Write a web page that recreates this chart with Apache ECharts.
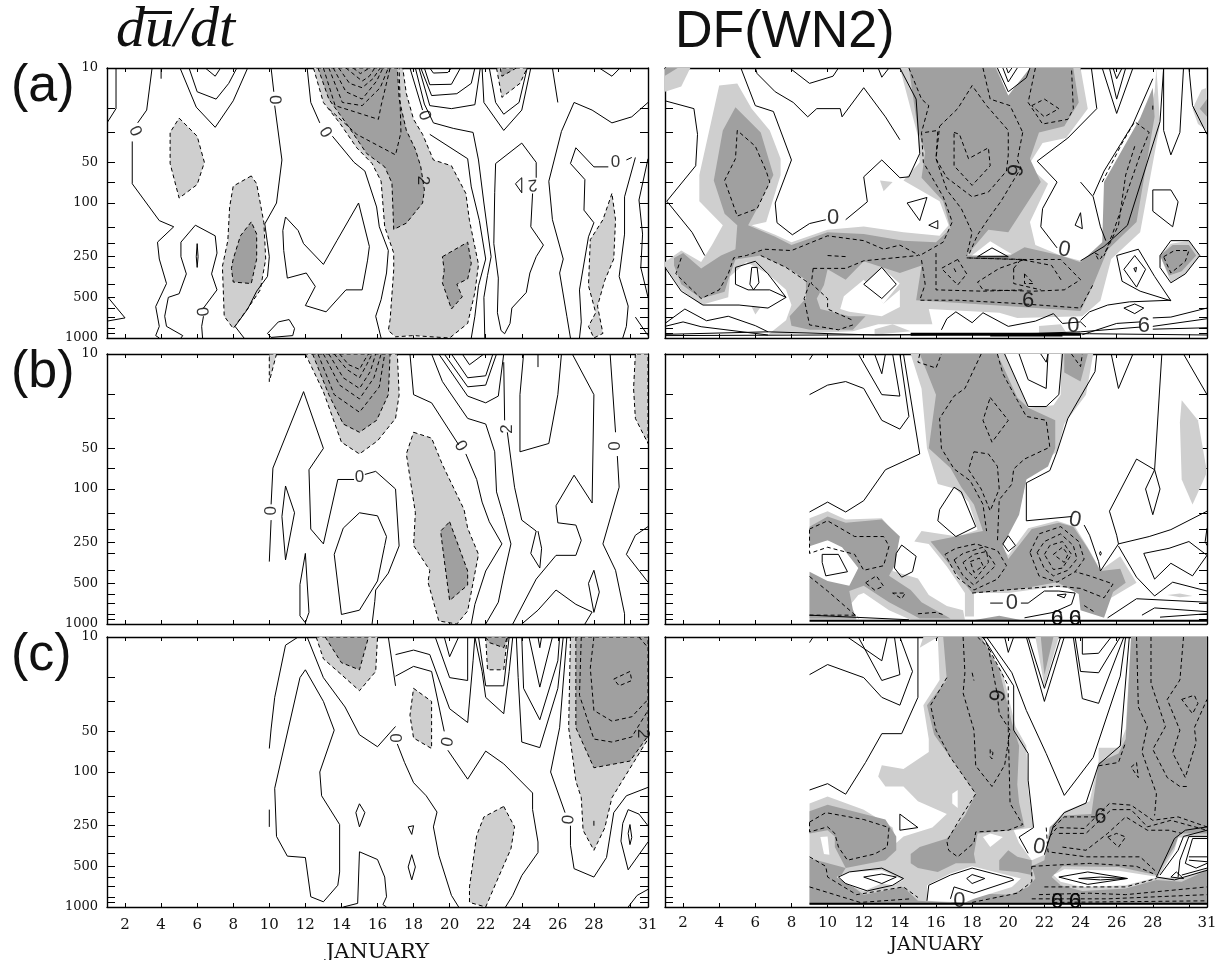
<!DOCTYPE html>
<html><head><meta charset="utf-8">
<script src="https://cdn.jsdelivr.net/npm/echarts@6/dist/echarts.min.js"></script>
<style>html,body{margin:0;padding:0;background:#fff}#c{width:1223px;height:960px}</style></head>
<body><div id="c"></div>
<script>
// Each trace is a flat list: day, pressure (hPa), day, pressure, ...
const dayTicks=[2,4,6,8,10,12,14,16,18,20,22,24,26,28,30,31];
const dayLabels=[2,4,6,8,10,12,14,16,18,20,22,24,26,28,31];
const pressureTicks=[10,20,30,50,70,100,150,200,250,300,400,500,600,700,850,925,1000];
const pressureLabels=[10,50,100,250,500,1000];

// Panel (a) du/dt
const aLLight=[[5,23.5,6,32,6.4,50,6,73,5,92,4.5,51,4.5,30],
[9,63,8,75,7.8,107,7.7,190,7.4,295,7.5,690,8,850,8.9,580,9.5,440,9.8,260,9.7,140,9.3,72],
[12.45,10,13,18,13.9,25.5,14.85,39,15.7,51,16.2,69,16.4,150,16.9,235,16.9,313,16.7,730,16.6,880,17,980,18,960,20,1000,21,780,21.4,460,21.6,285,21.1,135,20.9,85,20.1,53,19.1,48,18.5,31,18,24,17.6,15.5,17.4,10],
[22.6,10,22.9,16.5,23.9,13,24.3,10],
[29,85,28.5,133,27.8,187,27.7,410,28.1,650,27.7,820,28,1000,28.5,925,28.2,580,28.6,375,29.1,260,29.2,133]];
const aLDark=[[9,138,8.4,175,8,260,7.9,305,8,385,9,395,9.3,260,9.3,170],
[12.7,10,13.3,17,14.25,25.5,15.4,43,16.4,54,16.8,71,16.9,157,17.6,141,18.5,100,18.6,80,18.4,54,18.1,40,17.6,29,17.2,17,17.1,10],
[19.6,250,21,195,21.2,280,21,365,20.4,400,20.7,495,20.1,610,19.6,390,19.7,315],
[22.8,10,22.9,11.5,23.7,10]];
const aLSolid=[[1,25.5,1.5,20,1.5,10],[3.5,10,3.2,20.5,2.7,25.5],[2.4,35,2.4,72,3.9,135,4.7,150,3.8,195,3.9,260,4.3,395,3.7,585,3.9,820,3.7,960,3.9,1000],
[5.05,10,5.95,19.5,7,27.5,8,17.5,8.8,10],[5.55,10,6,15,7.05,17,7.75,13,8.2,10],[6.45,10,7,11.5,7.3,10],[4,10,4,12],
[10.1,10,10.25,15],[10.3,19,10.7,48,10.4,100,9.75,143,10,250,9.9,350,9.3,450,8.8,610,8.1,820,8.6,1000],
[6.3,1000,6.25,820,6.35,690],[6.35,600,7.1,440,6.8,335,7.1,235,7,175,5.9,146,5.1,195,5.1,250,5.4,335,5,470,4.4,500,4.2,690,4.3,820,5.2,960,5.1,1000],
[1,490,1.5,590,2,710,1,750],
[12.1,10,12.3,18,12.8,25.5],[13.5,32,14.7,50,15.3,58,15.95,107,16.1,150,16.6,225,16.5,330,16.2,520,15.9,690,16.2,1000],
[17.8,10,18.5,20.5],[18.9,31,21,47,21.2,76,21.65,135,22,260,21.6,410,21.4,690,21.2,1000],
[18.1,10,18.6,18.5,19.1,25.5,20.2,28,21.3,30,21.6,48,21.9,100,22.3,250,22.1,345,21.9,500,21.95,1000],
[18.3,10,18.9,19,20.1,20,21.4,18.7,21.7,10],[18.4,10,19,16,20.4,15.5,21.2,13,21.4,10],[18.6,10,18.9,13.3,20.1,13.2,20.6,10],[18.9,10,19.1,10.9,19.9,10.8,20.1,10],
[21.8,10,21.9,18,23,29,24,20.5,24.5,10],[22.2,10,22.55,18,23,22,23.85,18,24.3,10],
[24.6,85,24.5,150,25.2,205,24.8,250,24.45,330,24.25,460,23.45,600,23.35,780,23.05,930,22.85,880,22.65,650,22.7,360,22.45,200,22.5,84,22.55,51,24,36,24.8,50,24.8,65],
[31,18,30.1,23,29,25.5,27.9,20.5,26.9,18,26.2,29.5,25.5,69,25.7,133,26.3,260,26.1,330,26.5,690,26.7,1000],[25.7,10,26,18],
[28.8,54,28,54,27,39,26.7,51,27.5,67,27.45,113,28,140,27.7,178,27.2,440,27.3,760,27.2,1000],[29.8,48,30.1,46],
[28.3,10,29,11.5,29.45,10],[30.3,46,29.7,90,29.7,170,29.4,350,29.9,580,29.8,820,29.6,1000],[31,47,30.5,95,30.7,170,30.6,300,31,500],[30.3,700,31,960]];
const aLSolidClosed=[[6,200,5.95,250,6,300,6.05,250],
[10.9,127,11.6,160,11.9,200,13,285,13.75,190,14.95,100,15.55,210,15.45,265,15.15,440,14.25,440,13.15,640,12,575,12.55,415,12.05,330,11,360,10.8,225,10.75,160],
[9.9,925,10.5,760,11.1,730,11.4,850,11.3,960,10.1,990],[23.65,72,24,65,24,84]];
const aLDash=[[13,10,13.65,19,16.05,24,16.2,19,16.7,10],[13.3,10,14.05,18,15.15,19,16.15,14,16.6,10],[13.55,10,14.25,15,15.15,17,15.95,12.5,16.3,10],
[13.85,10,14.45,13,15.15,14,15.75,12,16.15,10],[14.25,10,15.15,12.5,15.55,11.5,15.85,10],[14.65,10,15.05,11,15.55,10],[13.3,20,14.85,31,17,44,17.3,30,17.2,10]];
const aLLabels=[[2.55,29.5,'0',-65],[10.3,17.2,'0',-88],[13.1,30,'0',-60],[18.6,22.5,'0',-70],[6.25,640,'0',-85],[18.5,68,'2',-90],[24.6,73,'2',185],[29.2,50,'0',0]];

const aRLight=[[1,274,1.9,225,3,274,3.6,205,4.2,146,2.9,97,2.9,62,4,13.5,5,13,5.8,20,6.8,29,7.4,47,7.4,62,6.6,138,5.8,146,7.1,172,8,195,10,158,12,149,14.2,165,16.2,175,16.7,146,16.2,97,14.2,68,15.1,50,15,32,14,10,24,10,24.4,20,23.2,33,21.9,36,21.1,53,22.2,72,21.2,138,21.5,205,22.9,245,24,268,25.4,200,26.5,146,28.1,15,28.2,10,28.4,26,27.3,165,25.7,260,25.1,530,24.1,690,20.5,710,19.5,650,15.6,610,15.8,790,12.8,790,11.4,890,6.7,945,7.7,740,8,570,7.7,440,6.7,335,5.5,274,4.6,350,4.5,500,3,570,1.9,440,1,295],
[1,10,2.4,10,1.9,13.7,1,15],[12.9,68,13.6,70,13.1,82],[5.8,590,6.3,590,6,670],[30.2,20,30.7,14.5,31,14,31,29,30.5,26],[28.4,245,29,200,30,190,30.6,245,29.8,335,29,385],[21.7,815,22.9,790,23.3,945,21.7,945],[12.6,860,13.6,790,14.6,890,12.6,945]];
const aRWhiteUnder=[[13,300,13.99,395,13.1,555,12,405],[10.7,610,10.9,490,12,370,13.1,555,14,440,14,590,13,690,11.2,640],[17.9,250,19,192,20.2,240],[19.4,10,20,17,21.2,10]];
const aRDark=[[1.5,255,2,235,3,305,4.1,245,4.9,220,5,146,4.3,120,3.7,68,4.2,29,4.9,19.5,6.3,30,7,62,6.1,110,5.6,146,7.1,178,8,205,10,165,12,170,14.2,190,16,195,16.8,155,16.4,97,15.2,65,15.4,42,15,29,14.5,10,19.3,10,20,16,21.2,10,23.6,10,23.9,18,23.1,27,21.7,30,21.2,47,21.8,70,20,165,18.9,158,17.7,245,20.1,245,20.9,213,22.9,245,24,275,25.2,195,25.3,70,27.3,23.5,28,14,28.1,23,27.1,138,25.5,222,24.7,405,24,630,19.9,580,14.9,525,15.2,290,14,330,12,270,11,370,10,310,9.8,405,9.4,510,9.6,610,11.2,690,12.1,690,11.4,870,9,870,8,810,7.9,690,8.8,510,8.8,370,7.9,310,6.3,245,4.9,262,4.5,370,4.3,455,3,510,1.9,400,1.5,290],
[28.4,245,29.1,205,30,205,30.4,245,29.6,320,28.9,345],[1,10,1.7,10,1,11.4],[30.6,20,31,17,31,23]];
const aRSolid=[[1,17.5,2.6,20,2.8,31,2.7,53,1.1,97,2.5,165,3.2,245],
[5.2,10,6,19,7,21,8,48,7.1,100,7.2,140,8.05,172,9,142,9.9,133],[11,133,12.2,98,12,64,13,48,14,65,14.5,64,15.1,43,14.9,17,14,10],
[6,10,6.1,11,7.1,15,8.1,18,8.9,23,9.4,20,10.7,20,10.8,23,12,14,13.2,23,14,34],[7.9,10,9,13,10.3,11.5,10.6,10],[12.8,10,13,11.7,13.4,10],
[19.4,10,20,15,21,11.8,21.2,10],[19.7,10,20,12.7,20.5,10],[19.9,10,20,10.9,20.2,10],
[24.6,10,24.9,20,23.3,33,21.6,49,22.7,70,21.9,110,21.8,150,22.7,215],[24,268,25.3,210,26.6,146,28.4,25,28.6,10],
[24,70,24.7,90,25.1,150,25.4,190],[24.7,88,25.3,58,26.9,26,28,12],
[25.2,10,26,21.7,26.9,10],[25.6,10,26,17,26.5,10],[25.8,10,26,12,26.3,10],
[28.6,10,28.6,29,29,44,29.5,30,29.7,10],[30,10,30.2,19,31,31],
[1,300,1.9,450,3.1,570,5.1,570,6.7,600,7.7,500,6.8,440,5.6,440,4.9,400,4.9,300,6,270,6.7,335,7.7,500],
[1,820,2,760,3,825,6.7,950],[1,780,2.1,610,3.3,745,4.5,690,6,810,6.7,900],[1,940,6.7,900,12.6,950,24.5,930,31,950],[1,960,14.6,945,21.6,925,24,900,27.3,830],
[16.3,870,16.6,720,17.1,640,18,770,18.6,650,20,820,21.5,750,22.5,660,23,780,24,760,24.3,830],
[24.1,945,26,780,27.3,760],[28,710,29,700,31,600],[28,820,31,720],[28,860,31,840],[24,740,24.5,640,25.5,570,26.7,540,29,525]];
const aRSolidClosed=[[14.4,100,15.5,91,15.1,135],[15.6,146,16.1,135,16.1,155],[23.7,146,24,118,24.1,155],[18.3,250,19.1,215,20,250],[5.8,300,6.1,300,6.2,390,5.9,440,5.7,400],
[13,300,13.8,400,13,510,12,400],[27,245,27.6,310,27.1,420,26.4,310],[26.95,305,27.1,300,27.05,325],[26,245,27.2,220,28.1,350,29,530,27.3,450,26.3,380],
[28.4,245,29,190,30,190,30.6,245,29.8,335,29,390,28.4,300],[26.4,600,27,560,27.5,600,27,660],[29,80,28,80,28,115,29.1,150,29.4,98]];
const aRThick=[[14.6,945,24,945],[14.6,930,24,930],[19,960,23,960]];
const aRDash=[[25.2,70,26.3,36,27,25,27.8,30,27.3,44,25.8,165,25.3,245],[27,38,26.5,62,26.1,146,25.3,245],[28,19,28,21],
[1.9,255,1.6,335,3,510,4,440,4.5,335,4.8,255,5.5,245,6.5,220,8,225,10,175,12,190,13.1,220,14,205,15.1,245],
[14.5,10,15.2,17,15.6,19,15.2,30,15.3,50,16.4,90,16.9,138,16.4,195,15.1,245],[15.4,30,16.1,29,16,47,16.6,80,17.4,110,18,165,17.7,245],
[20.8,30,20.5,48,20.7,55,19.6,97,19,125,18.3,172,17.8,245],[18.6,10,19,17,20.1,19,20.8,30],[21.5,10,21.1,18,21.9,26,23.3,24,23.6,20,23.5,10],
[6.3,245,7.7,300,9,395,8.7,510,9,800,10.6,870,11.4,800],[9.2,305,11,305,12,268,15,245],[10,245,11.1,250],[9.2,305,9.1,395,10,510,10,610,11.4,740],
[15.2,265,15.4,400,15.1,525,17.2,525,20.5,555,24,600,24.7,400],[16,235,16,440,18.6,450,20.8,440],[20.3,305,20.7,262,22.4,290,23,385],[20.3,305,20.3,395,21.8,440],[17,305,17.1,325]];
const aRDashClosed=[[5,29,4.9,47,4.3,68,5,125,6.1,110,6.8,70,6.6,58,6,38],[16.2,27,17.2,20,18,13.5,18.8,19,20,29,20,44,19.9,58,18.9,83,18,90,16.6,65,16,47],
[17,30,17.3,31,17.8,47,18.9,39,19,53,18,74,17,53],[21.3,19,22,17,22.8,20,22,23],[24.8,235,25.2,250,25,265],
[17.7,255,20.5,262,22.9,262,24,370,23.1,440,21.4,450,18.6,440,18.3,385,19.5,305,20.9,262],[17.2,262,16.3,305,17.2,405,17.7,335],[20.9,335,20.9,395,21.4,395],[28.6,250,29.2,225,30,225,29.8,270,29,330]];
const aRLabels=[[10.3,128,'0',0],[20.3,57,'6',-100],[23.1,222,'0',-10],[21.1,530,'6',0],[23.6,820,'0',0],[27.5,820,'6',0]];

// Panel (b)
const bLLight=[[12,10,13,19,14,45,15,55,16,44,17,30,17.2,20,17.1,10],[10,10,10.4,10,10,16],[30.3,10,30.2,18,30.3,30,31,46,31,10],
[18,38,19,42,19.6,66,20.8,142,21,195,21.6,305,21,800,20.4,1000,19.4,950,18.8,490,18.9,400,18,262,18.1,150,17.6,55]];
const bLDark=[[12.4,10,13.3,20,14.1,33,15,38,15.95,31,16.6,20,16.7,10],[20,175,21,405,21,515,20,670,19.7,335,19.5,205]];
const bLSolid=[[10,345,10.1,170],[10.1,130,10.2,70,11.9,19,13,50,12.2,72,12.3,198,13,255,13.8,85,14.7,85],[15.3,78,15.9,74,17,100,17.2,264,16.6,420,15.9,560,15.85,680,15.7,1000],
[17.8,10,18,20,19,23,20.5,47],[20.9,55,21.5,85,21.8,125,22.2,175,22.9,255,22,405,21.4,715,21.2,1000],
[19,10,19.6,16,21,30,22,33,22.5,53,22.6,105,23,160,23.4,255,23,440,22.7,690,22,1000],[23,11.5,23.05,31],[23.2,38,23.6,97,24,170,24.8,205,24.5,300,25,385,25.1,275,24.9,205],
[19.4,10,21,20.5,22,23,22.7,20.5,23,10],[19.7,10,21,17.5,22,17,22.6,10],[20.1,10,21,15,22,14.5,22.4,10],[20.7,10,21.1,12,21.9,10],[24.9,10,24.9,12.5],
[24.1,10,23.9,20,23.9,53,25.5,46,26,20,26.2,10],[26.8,10,28,20,27.9,127,26.9,79,25.9,133,26,178,27,185,27.3,240,27,310,25.9,310,24.8,465,23.5,1000],
[28.9,10,29.2,38],[29.3,57,29.4,97,28.5,255,29.2,400,29.7,840,29.7,1000],[25.9,560,24.9,790,24,1000],[25.9,560,27,715,27.9,815,27.5,1000],[31,190,30.3,220,29.8,305,31,490]];
const bLSolidClosed=[[15,150,16,158,16.5,225,16.4,262,16,480,15,790,14,850,13.6,305,14.1,195],[10.9,95,11.4,150,10.9,335,10.7,160],[12,300,12.2,820,12,980,11.7,870,11.7,510],[28,400,28.3,580,28,820,27.7,500]];
const bLDash=[[12.7,10,13.6,20,15,27,16.1,17.5,16.4,10],[13,10,13.9,17,15,21.5,15.8,15,16.2,10],[13.3,10,14.1,15,15,18,15.6,13.5,15.9,10],[13.6,10,14.3,13,15,15,15.4,12,15.7,10],[13.9,10,14.4,12,15,13,15.3,11,15.5,10]];
const bLLabels=[[10.1,145,'0',90],[15,82,'0',0],[20.6,48,'0',-60],[23.2,36,'2',90],[29.2,48,'0',90]];

const bRLight=[[9,165,10,146,11,168,13,165,13.9,225,13.6,405,15,460,15.6,610,16.6,735,17.5,790,17.6,930,14.6,930,13.4,790,12,590,11.7,610,11.2,735,11.6,930,9,930,9,460,10,510,11.2,540,11.9,385,10.9,262,10,240,9,250],
[14.6,10,15.2,18,15.5,50,16.1,92,17.1,100,17.8,125,18.3,200,17.2,225,15.2,205,14.8,245,15.6,255,16.6,375,17.6,590,17.6,880,18.1,880,18.1,590,20,590,22.5,530,23.8,545,24.1,680,25.2,810,25.7,640,27.1,495,26.2,315,25.1,400,24.4,270,23.7,190,22.7,172,21.1,195,20,310,19.4,245,20.6,146,21.1,75,22.7,53,23.1,33,24.3,20,24.7,10],
[29.6,22,30.5,31,31,75,30.2,130,29.6,85,29.5,32],[28.8,610,29.5,595,30.2,620,29.5,635]];
const bRWhiteUnder=[[19.8,10,21.1,25,22.5,24,22.9,20,22.9,10],[19.7,255,20,222,20.4,262,20,290]];
const bRDark=[[9,190,10,160,11,178,13,168,14,225,13.7,370,13.4,440,14.6,560,15.2,690,16.8,910,15.1,910,13.4,690,12,520,11.2,570,11.4,780,11.6,910,9,910,9,410,10,480,11.2,520,11.7,385,10.8,270,10,240,9,265],
[15.1,10,16,20,15.6,50,16.8,70,17.4,97,18.1,130,18.6,205,15.7,245,16.8,370,18,590,20.5,555,22.7,490,23.9,600,24,790,25.3,900,25.8,580,26.5,495,26.2,390,25.1,405,24.4,275,23.6,190,22.8,178,21.3,198,20,330,19.7,262,20.6,155,21,85,22.2,68,22.6,50,22.6,31,21.1,25,20.5,21,19.4,10],
[23.1,10,23.1,13.7,24,16,24.4,10],[17.9,945,19.5,870,20.9,945]];
const bRSolid=[[9,11,9.2,10],[9,20,10,17,11,16,12,18,13,31,14,36,14.5,29,14,10],[11.7,10,13,20,14,20.5,13.6,10],[12.6,10,13,14,13.2,10],[14.2,10,15.1,55,13.2,72,12,122,11,148,10,125,9,148],
[20.6,10,21.1,15.5,22.1,18,22.2,10],[21.8,10,22.1,11.5,22.2,10],[19.8,10,21.1,24.5,22.1,24.5,22.8,20,23,10],
[24.9,10,24.8,13.5,23.3,30,22.7,53,22.3,73,21,90,21,172,23.5,160],[24.2,185,24.5,220,25,345,25.1,405,26.1,255,26,220,25.6,146,27.1,60,28.1,72,28.5,10],
[25.7,10,26.1,18,26.9,10],[29.7,10,31,20],[26.1,255,27.8,225,29,200,31,146],[26.1,265,27.1,450,28.1,620,29.1,490,31,570],[25.5,900,27.1,650,31,690],[27.4,860,28.1,760,31,810],[28.4,890,31,840],[31,195,30.9,245,31,262],
[19,700,19.7,700],[20.7,700,21.1,700,22,570,22.8,570,23.7,590,23.5,715,22.5,820,20.9,900],[9,860,14.5,930]];
const bRSolidClosed=[[28.1,72,27.6,100,28,155,28.4,100],[27.5,300,28.9,275,30,245,31,310,30.2,440,29,355,28.1,465],[25.1,290,25.15,300,25.1,310,25.05,300],[17,97,17.4,105,18.2,190,17.1,225,16.1,172,16.2,142],
[14.1,260,14.9,315,14.7,410,14.1,450,13.7,385,13.8,300],[9.7,305,10.6,305,11.1,410,9.9,440,9.7,350],[19.7,255,20,222,20.4,262,20,290],[22.7,610,23.2,600,23.1,640]];
const bRThick=[[9,945,31,945]];
const bRDash=[[15.1,10,15,11.5,16,12.7,16.3,10],[18.5,10,17.6,18,17,20.5,16.2,30,16.3,50,17,71,17.9,87,18.6,130,18.8,205],
[19.4,10,19.7,14,20.5,22,21,29,22.1,31,22.3,49,20.9,60,20.3,71,20.2,92,19.5,120,19.4,245],[23.5,10,24,12.4,24.1,10],[9,445,10,570,11.7,900],[15,840,16,820,16.5,860],[9,860,11.6,860],
[18,590,20.5,550,22.8,525,24,545,25.3,640,25.8,505,24.5,440,23.7,410],[24.2,730,24.8,820]];
const bRDashClosed=[[18.1,53,18.9,55,19.4,68,19.5,100,19,145,18.5,100,17.8,72],[19,21,20,31,19.1,45,18.6,31],
[9,198,10,172,11.5,225,13.1,225,13.4,265,13.1,370,12,400,11.5,305,10,270,9,300],[12.1,495,12.7,440,13.1,525,12.6,560],[13.6,590,14.3,590,14.1,650],
[16.5,305,17.1,275,18.2,255,19.4,285,19.9,370,19.4,465,18.1,560,17.2,455],[17,335,17.5,300,18.6,270,19.1,335,19.3,370,18.7,440,18.1,515,17.5,440],[17.5,350,18.1,305,18.8,290,18.9,350,18.2,460,17.7,400],[17.9,345,18.4,325,18.6,370,18.1,415],
[21.2,295,21.7,215,22.9,190,23.9,245,24.2,330,23.7,410,22.7,490,21.7,440],[21.6,295,22,245,22.9,215,23.6,262,23.8,330,23.3,400,22.5,440,22,390],[22,305,22.3,262,23,245,23.5,305,23,385,22.5,395],[22.5,305,23,270,23.3,305,23.1,350]];
const bRLabels=[[23.7,170,'0',-10],[20.2,700,'0',0],[22.7,925,'0',0],[22.7,925,'6',0],[23.7,925,'0',0],[23.7,925,'6',0]];

// Panel (c)
const cLLight=[[12.6,10,13,14.5,14,19,15,25,15.9,18,16,10],[18,24,19,30,19,67,18,56,17.8,38],[22,10,22.1,17.5,23,17.5,23.2,10],
[23,180,23.6,255,23.4,370,22.6,650,22,1000,21.1,925,21.1,710,21.5,295,21.9,215],[26.7,10,26.6,47,27,117,27.3,155,27.4,270,28,380,28.6,260,29,155,31,57,31,10]];
const cLDark=[[13.1,10,14,15.5,15,17.5,15.5,10],[22,10,22.2,11,23,12,23.2,10],[27,10,27,47,28,93,30,83,31,54,31,10]];
const cLSolid=[[10,67,10.1,48,10.3,28,10.9,11.5,11.6,10],[10,190,10,255],[12.1,10,13,20,14.2,33,15,53,16,65,17,46],[17.1,62,17.5,85,18,120,18.7,150,19.3,198,19.1,255,19.4,415,20.1,820,20.5,1000],
[14.1,1000,14.9,940,15,390,16,445,16.4,600,16.5,840,16.3,960,16.5,1000],[16.6,10,17,23],[17,13.5,18,12.5,18.9,13.5,20,34,21,43,21.3,15,21.4,10],[17,19.5,18,16.5,19,18,19.7,50],
[19.9,69,21,113,22,70,23,87,24.6,143,24.6,190,24.9,330,24.9,395,24,585,23.5,820,23.1,1000],[19.2,10,20,20,21,21,21,10],[19.7,10,20,14,20.5,10],
[21.4,10,21.8,18,22,28,23,37,23.3,18,23.5,10],[21.6,10,22,23,23,23,23.3,10],[23.7,10,23.8,20,24,60,25,66,26,24,26.3,10],[24,10,24.1,24,25,41,26,15,26.1,10],[24.4,10,25,23.5,25.7,10],[24.9,10,25,12,25.1,10],
[26.5,10,26.1,47,25.6,100,26.4,200],[26.7,250,26.7,350,26.9,520,28,600,28.7,430,29.1,200,29.8,150,31,130],[31,330,29.9,530,29.5,325,29.6,240,29.9,190,30.5,205,31,250],[31,740,30.4,820,29.9,1000],[28,230,28,250]];
const cLSolidClosed=[[12,17.5,13,30,13.6,49,12.8,100,12.9,150,13.9,245,13.9,550,13.8,690,13,915,12.3,840,12,430,11,420,10.4,300,10.3,132,11.7,20],
[15,172,15.3,200,15,255,14.8,200],[17.7,255,18,250,17.9,290],[17.9,410,18.1,505,17.9,630,17.7,505],[30,245,30.1,305,30,345,29.9,285]];
const cLDash=[[28,10,27.8,17,28,35,29,42,30.1,39,31,29],[27.3,10,27.2,27,28,57,29,60,30.1,55,31,35],[30.5,10,31,12]];
const cLDashClosed=[[29.1,20.5,30,18,30.1,21,29.4,23]];
const cLLabels=[[17.1,56,'0',90],[19.9,60,'0',80],[26.6,225,'0',85],[30.7,52,'2',-90]];

const cRLight=[[15.1,12,15.3,10,18.5,10,19.7,18.5,20.4,46,21,64,21.1,135,21.4,258,20.3,270,20.6,335,21.3,450,22.2,400,22.3,258,23.1,195,24.5,165,25,85,25,66,26.1,66,26.5,48,26.8,10,31,10,31,960,9,960,9,171,10,152,12,190,13.6,258,13.8,335,14.2,300,15.8,258,16.6,205,15,165,14.2,128,13.2,128,12.8,108,13,89,14.2,95,15.6,71,15.6,57,15.3,32,16.2,20.8,16.1,10],
[21.5,10,22,23,22.8,10]];
const cRDark=[[16.4,10,16.6,20.8,15.5,32,15.9,53,17,85,18.2,145,17.6,210,16.6,311,15.1,360,14.6,405,14.6,475,15,515,16.1,550,17.1,475,18.2,475,18.1,405,18.3,285,20.2,270,20.9,255,20.6,168,20.5,124,20.6,64,20.2,43,19.5,17.4,18.5,10],
[26.8,10,31,10,31,960,9,960,9,435,11,515,10.7,600,12,810,14.2,710,15,900,16.8,925,18.1,790,20.1,810,21.1,710,21.5,615,21.3,500,22,450,22.3,255,23.1,210,24.6,205,25,85,26.1,73,26.5,57],
[19.5,450,20,380,20.5,425,21.3,450,21.3,580,20.5,550,19.5,535],[9,195,10,175,13.2,225,13.8,300,13.8,380,13.2,450,11,515,10.4,360,10.4,300,10,270,9,285],[21.8,10,22,19,22.5,10]];
const cRLightOver=[[22.4,600,23,500,26.1,505,28.2,580,29.2,358,29.5,285,31,285,31,535,29.6,650,28.2,630,26.5,730,24.1,760,22.9,690]];
const cRWhite=[[9.6,303,10,300,10.1,410,9.8,405],[10.5,600,11.2,550,13,535,14.2,630,13.6,690,13,670,12,760,11.2,690],[15.5,690,16.8,565,18,500,20.7,615,20.2,710,18.1,870,17.6,925,15.5,900],[18.6,303,19,285,19.7,303,19,360],[16.9,145,17.2,136,17.2,185,16.9,171],
[22.5,580,23.1,525,26.1,540,28.3,600,26.5,690,24.1,710,22.9,650],[28.3,600,29.2,380,29.4,305,31,305,31,520,29.6,615]];
const cRSolid=[[9,11,9.2,10],[9,19,10,16,12,20,13,28,14,32,14.7,18,14,10],[11.1,10,13,15,13.3,10],[11.7,10,13,21,14,19,13.7,10],[15,10,15,28,14.1,52,13,52,12.1,85,11,146,10,122,9,136],
[19.8,10,20,13,20.3,10],[18.8,10,20.2,18.4,21,35,22.1,73,23.1,149,24.7,78,26.2,19.5,26.5,10],[18.6,10,20.3,23,20.3,49,21.1,73,21.1,115,21.4,258,20.6,303,21.1,400],[22,410,22.5,250,23.1,200,24.3,170,25,88,26.2,64,26.7,10],
[21,10,22,30,23.1,10],[21.1,10,22,24,22.9,10],[23.6,10,24.1,28.6,25,31,26.4,10],[23.7,10,24,18,25,18.4,26.2,10],[24.1,10,24.1,13.4,25,13.2,25.7,10],
[15.6,690,16.8,580,18,515,20.2,615,20.3,630,18.1,790,17,710,16.8,870],[15.6,690,15.5,900],
[28.2,600,29.2,311,29.8,270,31,255],[28.4,580,29.4,380,29.7,300,31,270],[29.4,600,29.5,450,30,300,31,300],[29.8,475,30.2,311,31,311],[30,425,31,425],[30,450,31,462],[29.8,475,30.4,515,31,475],[29.6,580,31,515],[28.2,600,29.2,630,31,535]];
const cRSolidClosed=[[14,205,15,258,14,270],[12,600,13,570,13.8,600,13,670],[10.6,600,11.2,550,13,515,14.2,615,13.6,690,12.2,760,11,670],[17.7,615,18,575,18.7,615,18,670],[22.8,600,24.4,550,26.6,615,24.4,680],[23.9,615,25.1,600,26.5,615,25.1,630],[29,600,29.3,550,29.7,615]];
const cRThick=[[9,945,31,945]];
const cRDash=[[17.5,10,17.6,18.4,17.5,26,18.1,49,18.2,90,19.1,128,19.8,89,20.1,49,19.5,37,19.4,27,18.9,12,18.3,10],[16.6,20,15.7,32,16,49,16.8,78,18.2,145,17.3,225,16.6,325,16.7,380,17.2,425,18.1,335,18.2,278,20,270,20.8,245,20.1,171,20,49,20,23,18.6,10],[18,18.4,18.1,21],
[27.1,10,27.2,33,27.7,46,27.4,71,28.2,145,28.1,210],[27.9,10,27.9,22,28.7,46,28,68,28.8,110,29.5,128,30,128],[29.7,10,29.5,20.8,28.8,29,29.5,49,29.1,72,29.8,110,30.4,60,30.3,47,31,29],
[25,90,26.1,85,26.5,60],[22.5,258,23.1,215,24.8,215],[22.3,300,22.7,258,24.2,262,25.6,171,26.8,176,28,228,29.4,215,31,255],[22.8,285,24.3,285,25.7,190,26.8,190,27.7,255,29,228,31,270],[23,360,24.3,380,25.5,285,26.5,215,27.7,270,28.9,270,29.6,285],
[22.1,258,22.2,390,24.3,425,27.3,425,28.2,550],[21.3,500,22.5,490,24.5,475,27.1,500,28.2,580],[22,710,24.5,710,26.5,710,28.2,615],[21.7,810,24.5,790,26.5,810,31,710],[21.3,870,25.5,870,31,810],[22.5,925,31,900],
[9,425,9.9,500,10,600,11.6,810,14.2,710,15,850],[9,710,11.8,925,14.6,870],[18,925,20.5,790,21.3,650,21.3,500]];
const cRDashClosed=[[19,68,19,77,19.1,80,19.15,72],[29.6,29,30.3,27,30.5,31,30.2,37],[26.8,92,27.1,85,27.2,110],[25.5,303,26,285,26.5,303,26.1,360],[9,235,9.9,200,12,225,13.4,258,13.3,360,12.6,405,11.1,450,10.6,360,10.4,285,10,255,9,278]];
const cRLabels=[[17.3,900,'0',0],[21.7,360,'0',-10],[25.1,215,'6',0],[19.3,27,'6',-100],[22.7,925,'0',0],[22.7,925,'6',0],[23.7,925,'0',0],[23.7,925,'6',0]];

const GRID=[{l:107,t:68},{l:665,t:68},{l:107,t:354},{l:665,t:354},{l:107,t:637},{l:665,t:637}];
const W=[541,542,541,542,541,542],H=270;
const LIGHT='#cfcfcf',DARK='#a0a0a0',INK='#000';
const panels=[
 {light:aLLight,dark:aLDark,solid:aLSolid,solidClosed:aLSolidClosed,dash:aLDash,labels:aLLabels,outline:true},
 {light:aRLight,whiteUnder:aRWhiteUnder,dark:aRDark,solid:aRSolid,solidClosed:aRSolidClosed,dash:aRDash,dashClosed:aRDashClosed,thick:aRThick,labels:aRLabels,big:true},
 {light:bLLight,dark:bLDark,solid:bLSolid,solidClosed:bLSolidClosed,dash:bLDash,labels:bLLabels,outline:true},
 {light:bRLight,whiteUnder:bRWhiteUnder,dark:bRDark,solid:bRSolid,solidClosed:bRSolidClosed,dash:bRDash,dashClosed:bRDashClosed,thick:bRThick,labels:bRLabels,big:true},
 {light:cLLight,dark:cLDark,solid:cLSolid,solidClosed:cLSolidClosed,dash:cLDash,dashClosed:cLDashClosed,labels:cLLabels,outline:true},
 {light:cRLight,dark:cRDark,lightOver:cRLightOver,white:cRWhite,solid:cRSolid,solidClosed:cRSolidClosed,dash:cRDash,dashClosed:cRDashClosed,thick:cRThick,labels:cRLabels,big:true}
];
const lp=p=>Math.log10(p);
function traceSeries(i,list,kind,style,z){
  return {type:'custom',xAxisIndex:2*i,yAxisIndex:2*i,z,silent:true,clip:true,
    encode:{x:0,y:1},
    data:list.map(t=>[t[0],lp(t[1])]),
    renderItem(params,api){
      const t=list[params.dataIndex],points=[];
      for(let k=0;k<t.length;k+=2)points.push(api.coord([t[k],lp(t[k+1])]));
      const cs=params.coordSys;
      return {type:kind,shape:{points},style:Object.assign({},style),
        clipPath:{type:'rect',shape:{x:cs.x,y:cs.y,width:cs.width,height:cs.height}}};
    }};
}
const series=[];
panels.forEach((p,i)=>{
  const fillStyle=c=>p.outline?{fill:c,stroke:INK,lineWidth:1,lineDash:[4,3]}:{fill:c,stroke:null};
  series.push(traceSeries(i,p.light,'polygon',fillStyle(LIGHT),1));
  if(p.whiteUnder)series.push(traceSeries(i,p.whiteUnder,'polygon',{fill:'#fff'},2));
  series.push(traceSeries(i,p.dark,'polygon',fillStyle(DARK),3));
  if(p.lightOver)series.push(traceSeries(i,p.lightOver,'polygon',{fill:LIGHT},4));
  if(p.white)series.push(traceSeries(i,p.white,'polygon',{fill:'#fff'},5));
  const solid={fill:null,stroke:INK,lineWidth:1};
  const dashed={fill:null,stroke:INK,lineWidth:1,lineDash:[4,3]};
  series.push(traceSeries(i,p.solid,'polyline',solid,6));
  series.push(traceSeries(i,p.solidClosed,'polygon',solid,6));
  if(p.dash)series.push(traceSeries(i,p.dash,'polyline',dashed,6));
  if(p.dashClosed)series.push(traceSeries(i,p.dashClosed,'polygon',dashed,6));
  if(p.thick)series.push(traceSeries(i,p.thick,'polyline',{fill:null,stroke:'#000',lineWidth:2},6));
  series.push({type:'scatter',xAxisIndex:2*i,yAxisIndex:2*i,z:7,symbolSize:0,silent:true,
    data:p.labels.map(l=>({value:[l[0],lp(l[1])],label:{show:true,position:'inside',formatter:l[2],rotate:l[3],
      fontFamily:'Liberation Sans',fontSize:p.big?22:17,color:'#000'}}))});
});
const grid=GRID.map((g,i)=>({left:g.l,top:g.t,width:W[i],height:H,show:false,containLabel:false,outerBoundsMode:'none'}));
const xAxis=[],yAxis=[];
const axisLine={show:true,onZero:false,lineStyle:{color:'#000',width:1.4}};
const GAP_LEFT=35,GAP_RIGHT=29;
GRID.forEach((g,i)=>{
  const bottomRow=i>=4;
  const base={type:'value',gridIndex:i,min:1,max:31,splitLine:{show:false},axisLine};
  xAxis.push(Object.assign({},base,{position:'bottom',
    name:bottomRow?'JANUARY':'',nameLocation:'middle',nameGap:i===4?GAP_LEFT:GAP_RIGHT,nameMoveOverlap:false,
    nameTextStyle:{fontFamily:'DejaVu Serif',fontSize:i===4?21:19,color:'#111'},
    axisTick:{show:true,inside:true,length:4,customValues:dayTicks,lineStyle:{color:'#000'}},
    axisLabel:{show:bottomRow,customValues:dayLabels,margin:i===4?11:9,formatter:v=>String(v),fontFamily:'DejaVu Serif',fontSize:15,color:'#111'}}));
  xAxis.push(Object.assign({},base,{position:'top',
    axisTick:{show:true,inside:true,length:4,customValues:dayTicks,lineStyle:{color:'#000'}},axisLabel:{show:false}}));
  const yBase={type:'value',gridIndex:i,min:1,max:3,inverse:true,splitLine:{show:false},axisLine};
  const yTicks={show:true,inside:true,length:8,customValues:pressureTicks.map(lp),lineStyle:{color:'#000'}};
  yAxis.push(Object.assign({},yBase,{position:'left',axisTick:yTicks,
    axisLabel:{show:i%2===0,customValues:pressureLabels.map(lp),margin:9,formatter:v=>String(Math.round(Math.pow(10,v))),fontFamily:'DejaVu Serif',fontSize:13,color:'#111'}}));
  yAxis.push(Object.assign({},yBase,{position:'right',axisTick:yTicks,axisLabel:{show:false}}));
});
const txt=(text,x,y,font)=>({type:'text',silent:true,x,y,style:{text,font,fill:'#111',textAlign:'left',textVerticalAlign:'top'}});
const graphic=[
  txt('du/dt',116,2,'italic 58px "Liberation Serif"'),
  {type:'rect',silent:true,shape:{x:141,y:11,width:31,height:3},style:{fill:'#111'}},
  txt('DF(WN2)',675,7,'52px "Liberation Sans"'),
  txt('(a)',11,61,'52px "Liberation Sans"'),
  txt('(b)',11,347,'52px "Liberation Sans"'),
  txt('(c)',11,630,'52px "Liberation Sans"')
];
const chart=echarts.init(document.getElementById('c'),null,{renderer:'canvas'});
chart.setOption({animation:false,backgroundColor:'#fff',grid,xAxis,yAxis,series,graphic});
</script></body></html>
